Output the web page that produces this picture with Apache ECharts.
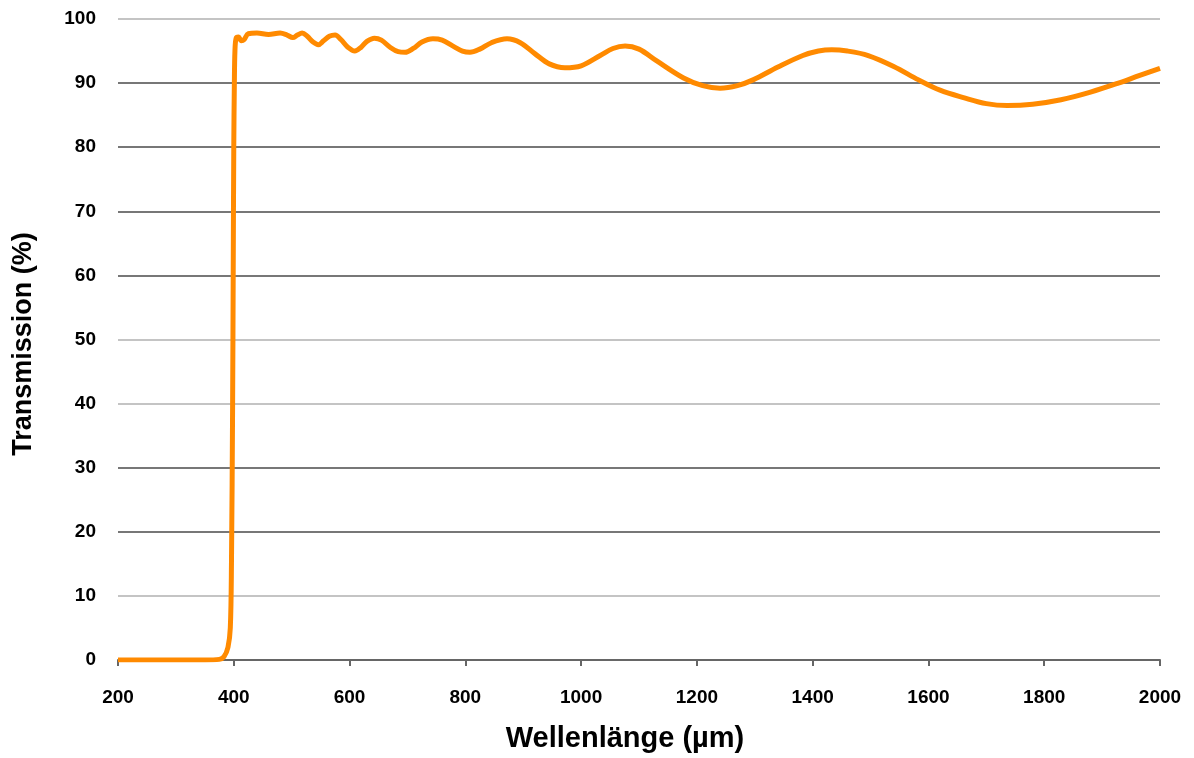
<!DOCTYPE html>
<html>
<head>
<meta charset="utf-8">
<script src="https://cdn.jsdelivr.net/npm/echarts@6/dist/echarts.min.js"></script>
<style>
html,body{margin:0;padding:0;background:#fff;}
#chart{width:1194px;height:758px;}
</style>
</head>
<body>
<div id="chart"></div>
<script>
const wavelength = [200,250,300,350,375,383,390,394,396,398,399,400,401,402,404,408,413,418,425,440,460,480,492,502,510,518,527,537,546,555,565,575,585,597,609,620,630,643,655,670,684,696,710,725,744,760,778,795,808,825,845,872,895,920,945,972,1000,1033,1055,1076,1100,1130,1177,1210,1240,1270,1297,1340,1383,1410,1433,1460,1496,1540,1583,1620,1662,1700,1736,1780,1829,1880,1928,1965,2000];
const transmission = [0,0,0,0,0.1,0.5,2,5,15,40,60,80,90,95,97,97.2,96.6,96.8,97.7,97.8,97.6,97.8,97.5,97.1,97.5,97.8,97.3,96.4,96.0,96.6,97.3,97.5,96.8,95.6,95.0,95.6,96.5,97.0,96.7,95.6,94.9,94.8,95.4,96.4,96.9,96.7,95.8,95.0,94.8,95.3,96.3,96.9,96.3,94.6,93.0,92.4,92.7,94.3,95.4,95.8,95.3,93.5,90.8,89.6,89.2,89.6,90.5,92.5,94.3,95.0,95.2,95.0,94.3,92.6,90.5,88.9,87.7,86.8,86.5,86.7,87.4,88.6,90.0,91.2,92.3];
const xTicks = [200,400,600,800,1000,1200,1400,1600,1800,2000];
const yTicks = [0,10,20,30,40,50,60,70,80,90,100];
const xTitle = 'Wellenlänge (µm)';
const yTitle = 'Transmission (%)';

const chart = echarts.init(document.getElementById('chart'));
const FONT = 'Liberation Sans, Arial, Helvetica, sans-serif';
const lbl = {fontFamily:FONT, fontWeight:'bold', fontSize:19, color:'#000'};
chart.setOption({
  animation:false,
  backgroundColor:'#fff',
  grid:{left:118,right:34,top:19,bottom:96},
  xAxis:{
    type:'value', min:xTicks[0], max:xTicks[xTicks.length-1], interval:200,
    name:xTitle, nameLocation:'middle', nameGap:64,
    nameTextStyle:{fontFamily:FONT, fontWeight:'bold', fontSize:29, color:'#000', padding:[0,28,0,0]},
    axisLine:{show:true, lineStyle:{color:'#666', width:2}},
    axisTick:{show:true, length:6, lineStyle:{color:'#666', width:2}},
    axisLabel:Object.assign({margin:28, formatter:v=>String(v)}, lbl),
    splitLine:{show:false}
  },
  yAxis:{
    type:'value', min:yTicks[0], max:yTicks[yTicks.length-1], interval:10,
    name:yTitle, nameLocation:'middle', nameGap:81,
    nameTextStyle:{fontFamily:FONT, fontWeight:'bold', fontSize:27, color:'#000', padding:[0,9,0,0]},
    axisLine:{show:false}, axisTick:{show:false},
    axisLabel:Object.assign({margin:22, formatter:v=>String(v)}, lbl),
    splitLine:{show:true, lineStyle:{width:2, color:['#777','#c4c4c4','#777','#777','#c4c4c4','#c4c4c4','#777','#777','#777','#777','#c4c4c4']}}
  },
  series:[{
    type:'line',
    data:wavelength.map((w,i)=>[w, transmission[i]]),
    showSymbol:false,
    smooth:0.35,
    lineStyle:{color:'#FF8A00', width:5},
    z:5
  }]
});
</script>
</body>
</html>
